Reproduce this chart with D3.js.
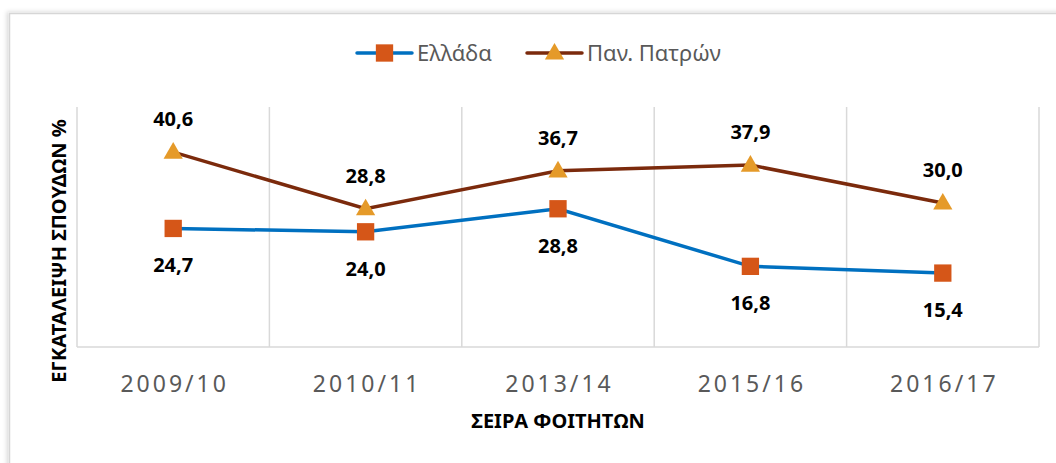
<!DOCTYPE html>
<html lang="el">
<head>
<meta charset="UTF-8">
<title>Εγκατάλειψη σπουδών</title>
<script src="https://d3js.org/d3.v7.min.js"></script>
<style>
html, body {
  margin: 0;
  padding: 0;
  background-color: white;
}
body {
  font-family: 'Noto Sans', sans-serif;
}
.tick-label {
  font-size: 23px;
  letter-spacing: 3px;
  fill: #595959;
}
.legend text {
  font-size: 22px;
  fill: #595959;
}
.axis-title {
  font-size: 20px;
  font-weight: bold;
  fill: #000;
}
.value-label {
  font-size: 20px;
  font-weight: bold;
  fill: #000;
}
</style>
</head>
<body>
<div id="chart"></div>
<script>

// --------------------------------------
// Data
// --------------------------------------

const categories = ["2009/10", "2010/11", "2013/14", "2015/16", "2016/17"];
const greece = [24.7, 24.0, 28.8, 16.8, 15.4];
const patras = [40.6, 28.8, 36.7, 37.9, 30.0];
const seriesNames = ["Ελλάδα", "Παν. Πατρών"];

// --------------------------------------
// Size and margin
// --------------------------------------

let totalWidth = 1056;
let totalHeight = 463;
let margin = {top: 107, right: 17, bottom: 116, left: 77};

let svg = d3.select("#chart")
  .append("svg")
  .attr("width", totalWidth)
  .attr("height", totalHeight);

// frame with soft shadow
let defs = svg.append("defs");
let filter = defs.append("filter")
  .attr("id", "shadow")
  .attr("x", "-5%").attr("y", "-5%")
  .attr("width", "110%").attr("height", "110%");
filter.append("feDropShadow")
  .attr("dx", -2).attr("dy", -1)
  .attr("stdDeviation", 2)
  .attr("flood-color", "#000")
  .attr("flood-opacity", 0.15);

svg.append("rect")
  .attr("x", 9.5)
  .attr("y", 13.5)
  .attr("width", totalWidth + 20)
  .attr("height", totalHeight + 20)
  .attr("fill", "white")
  .attr("stroke", "#d6d6d6")
  .attr("stroke-width", 1.5)
  .attr("filter", "url(#shadow)");

// --------------------------------------
// Scales
// --------------------------------------

let x = d3.scaleBand()
  .domain(categories)
  .range([margin.left, totalWidth - margin.right]);

let y = d3.scaleLinear()
  .domain([0, 50])
  .range([totalHeight - margin.bottom, margin.top]);

let cx = c => x(c) + x.bandwidth() / 2;

// --------------------------------------
// Grid and axis
// --------------------------------------

let bounds = categories.map(c => x(c)).concat([x.range()[1]]);

svg.append("g")
  .selectAll("line")
  .data(bounds)
  .join("line")
  .attr("x1", d => d).attr("x2", d => d)
  .attr("y1", y(50)).attr("y2", y(0))
  .attr("stroke", "#d9d9d9")
  .attr("stroke-width", 1.5);

svg.append("line")
  .attr("x1", x.range()[0]).attr("x2", x.range()[1])
  .attr("y1", y(0)).attr("y2", y(0))
  .attr("stroke", "#d9d9d9")
  .attr("stroke-width", 1.5);

svg.append("g")
  .selectAll("text")
  .data(categories)
  .join("text")
  .attr("class", "tick-label")
  .attr("x", d => cx(d) + 1.5)
  .attr("y", y(0) + 45)
  .attr("text-anchor", "middle")
  .text(d => d);

svg.append("text")
  .attr("class", "axis-title")
  .attr("x", 558)
  .attr("y", 428)
  .attr("text-anchor", "middle")
  .text("ΣΕΙΡΑ ΦΟΙΤΗΤΩΝ");

svg.append("text")
  .attr("class", "axis-title")
  .attr("transform", "translate(66,251) rotate(-90)")
  .attr("text-anchor", "middle")
  .text("ΕΓΚΑΤΑΛΕΙΨΗ ΣΠΟΥΔΩΝ %");

// --------------------------------------
// Lines
// --------------------------------------

let line = d3.line()
  .x((d, i) => cx(categories[i]))
  .y(d => y(d));

svg.append("path")
  .datum(greece)
  .attr("fill", "none")
  .attr("stroke", "#0070c0")
  .attr("stroke-width", 3.5)
  .attr("d", line);

svg.append("path")
  .datum(patras)
  .attr("fill", "none")
  .attr("stroke", "#7b2a0c")
  .attr("stroke-width", 3.5)
  .attr("d", line);

// markers
let square = d3.symbol().type(d3.symbolSquare).size(300);
let triangle = d3.symbol().type(d3.symbolTriangle).size(160);

svg.append("g")
  .selectAll("path")
  .data(greece)
  .join("path")
  .attr("d", square)
  .attr("transform", (d, i) => `translate(${cx(categories[i])},${y(d)})`)
  .attr("fill", "#d55618");

svg.append("g")
  .selectAll("path")
  .data(patras)
  .join("path")
  .attr("d", triangle)
  .attr("transform", (d, i) => `translate(${cx(categories[i])},${y(d) + 1})`)
  .attr("fill", "#e59a29");

// value labels
let fmt = v => v.toFixed(1).replace(".", ",");

svg.append("g")
  .selectAll("text")
  .data(greece)
  .join("text")
  .attr("class", "value-label")
  .attr("x", (d, i) => cx(categories[i]))
  .attr("y", d => y(d) + 44)
  .attr("text-anchor", "middle")
  .text(fmt);

svg.append("g")
  .selectAll("text")
  .data(patras)
  .join("text")
  .attr("class", "value-label")
  .attr("x", (d, i) => cx(categories[i]))
  .attr("y", d => y(d) - 26)
  .attr("text-anchor", "middle")
  .text(fmt);

// --------------------------------------
// Legend
// --------------------------------------

let legend = svg.append("g")
  .attr("class", "legend")
  .attr("transform", "translate(357,53)");

legend.append("line")
  .attr("x1", 0).attr("x2", 55)
  .attr("stroke", "#0070c0").attr("stroke-width", 3.5)
  .attr("stroke-linecap", "round");
legend.append("path")
  .attr("d", square)
  .attr("transform", "translate(27.5,0)")
  .attr("fill", "#d55618");
legend.append("text")
  .attr("x", 60).attr("y", 8)
  .text(seriesNames[0]);

legend.append("line")
  .attr("x1", 170).attr("x2", 225)
  .attr("stroke", "#7b2a0c").attr("stroke-width", 3.5)
  .attr("stroke-linecap", "round");
legend.append("path")
  .attr("d", triangle)
  .attr("transform", "translate(197.5,1)")
  .attr("fill", "#e59a29");
legend.append("text")
  .attr("x", 230).attr("y", 8)
  .text(seriesNames[1]);

</script>
</body>
</html>
